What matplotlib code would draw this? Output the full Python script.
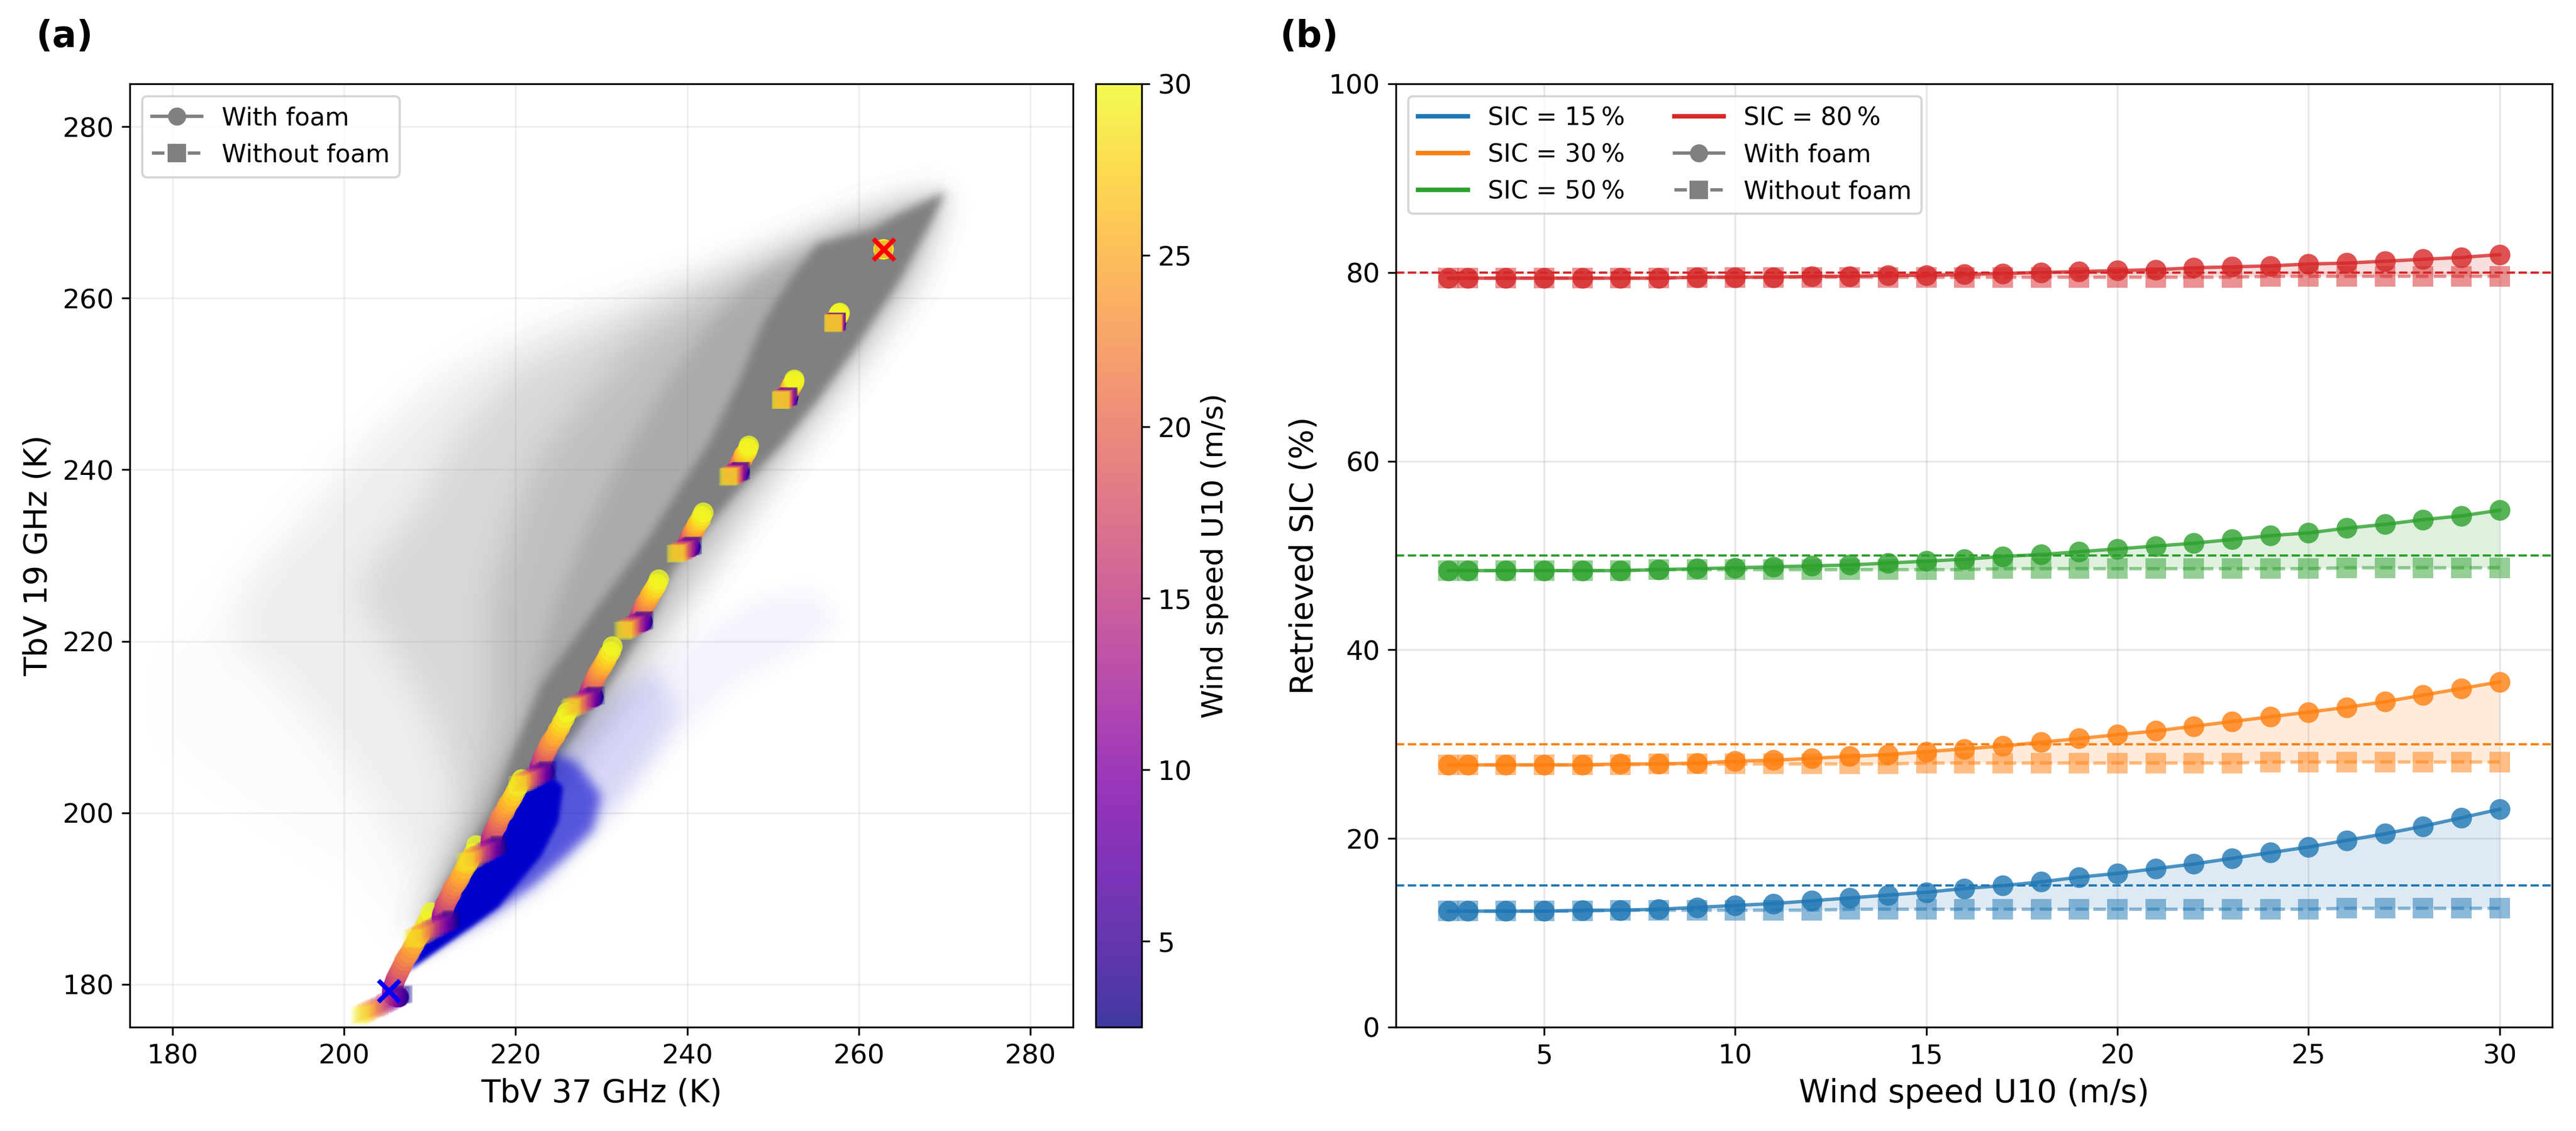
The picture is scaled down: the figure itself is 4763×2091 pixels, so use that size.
import matplotlib
matplotlib.use("Agg")
import matplotlib.pyplot as plt
import matplotlib.colors as mcolors
import numpy as np
from matplotlib.lines import Line2D
from matplotlib.patches import Polygon

wind = [2.5,3,4,5,6,7,8,9,10,11,12,13,14,15,16,17,18,19,20,21,22,23,24,25,26,27,28,29,30]

# Panel (a): brightness temperature curves, one row per ice concentration 0,10,...,100 %
tb37_foam = [
[206.4,206.3,206.2,206.1,205.9,205.8,205.7,205.6,205.6,205.6,205.6,205.7,205.8,205.9,206.0,206.2,206.4,206.6,206.8,207.0,207.3,207.6,207.9,208.2,208.5,208.9,209.3,209.7,210.1],
[212.1,212.0,211.9,211.8,211.7,211.6,211.5,211.4,211.4,211.4,211.4,211.5,211.6,211.7,211.7,211.9,212.1,212.3,212.5,212.6,212.9,213.2,213.5,213.7,214.0,214.4,214.7,215.1,215.4],
[217.7,217.6,217.5,217.5,217.3,217.2,217.1,217.1,217.1,217.1,217.1,217.1,217.2,217.3,217.4,217.5,217.7,217.9,218.0,218.2,218.4,218.7,218.9,219.1,219.4,219.7,220.0,220.3,220.7],
[223.4,223.3,223.3,223.2,223.1,223.0,222.9,222.8,222.8,222.8,222.8,222.9,223.0,223.1,223.1,223.3,223.4,223.5,223.7,223.8,224.0,224.2,224.5,224.7,224.9,225.2,225.4,225.7,226.0],
[229.1,229.0,229.0,228.9,228.8,228.7,228.7,228.6,228.6,228.6,228.6,228.7,228.7,228.8,228.9,229.0,229.1,229.2,229.3,229.5,229.6,229.8,230.0,230.2,230.4,230.6,230.8,231.1,231.3],
[234.8,234.8,234.7,234.7,234.6,234.5,234.5,234.4,234.4,234.4,234.4,234.5,234.5,234.6,234.6,234.7,234.8,234.9,235.0,235.1,235.3,235.4,235.6,235.7,235.9,236.1,236.3,236.5,236.7],
[240.4,240.4,240.3,240.3,240.2,240.2,240.1,240.1,240.1,240.1,240.1,240.1,240.2,240.2,240.2,240.3,240.4,240.5,240.6,240.6,240.8,240.9,241.0,241.1,241.2,241.4,241.6,241.7,241.9],
[246.1,246.1,246.0,246.0,246.0,245.9,245.9,245.9,245.9,245.9,245.9,245.9,245.9,246.0,246.0,246.0,246.1,246.2,246.2,246.3,246.4,246.5,246.6,246.6,246.7,246.9,247.0,247.1,247.2],
[251.8,251.8,251.8,251.7,251.7,251.7,251.7,251.6,251.6,251.6,251.6,251.7,251.7,251.7,251.7,251.8,251.8,251.8,251.9,251.9,252.0,252.0,252.1,252.2,252.2,252.3,252.4,252.5,252.5],
[257.4,257.4,257.4,257.4,257.4,257.3,257.3,257.3,257.3,257.3,257.3,257.3,257.3,257.4,257.4,257.4,257.4,257.4,257.4,257.5,257.5,257.5,257.6,257.6,257.6,257.7,257.7,257.7,257.8],
[262.9,262.9,262.9,262.9,262.9,262.9,262.9,262.9,262.9,262.9,262.9,262.9,262.9,262.9,262.9,262.9,262.9,262.9,262.9,262.9,262.9,262.9,262.9,262.9,262.9,262.9,262.9,262.9,262.9],
]
tb19_foam = [
[178.5,178.5,178.5,178.5,178.6,178.6,178.7,178.9,179.0,179.2,179.4,179.7,180.0,180.3,180.6,181.0,181.4,181.8,182.2,182.7,183.2,183.6,184.2,184.7,185.3,185.9,186.6,187.4,188.4],
[187.3,187.3,187.3,187.3,187.4,187.4,187.5,187.6,187.8,187.9,188.1,188.4,188.6,188.9,189.2,189.5,189.9,190.3,190.6,191.1,191.5,191.9,192.4,192.9,193.4,194.0,194.6,195.3,196.2],
[196.0,196.0,196.0,196.0,196.1,196.1,196.2,196.3,196.4,196.6,196.7,197.0,197.2,197.4,197.7,198.0,198.3,198.6,199.0,199.4,199.8,200.1,200.6,201.0,201.4,201.9,202.5,203.1,203.9],
[204.8,204.8,204.8,204.8,204.9,204.9,204.9,205.1,205.2,205.3,205.4,205.6,205.9,206.1,206.3,206.6,206.8,207.1,207.4,207.7,208.1,208.4,208.8,209.1,209.6,210.0,210.5,211.0,211.7],
[213.5,213.5,213.5,213.5,213.6,213.6,213.6,213.7,213.8,213.9,214.0,214.2,214.4,214.6,214.8,215.0,215.2,215.5,215.7,216.0,216.3,216.6,216.9,217.2,217.6,217.9,218.4,218.8,219.4],
[222.3,222.3,222.3,222.3,222.3,222.3,222.4,222.5,222.5,222.6,222.7,222.9,223.0,223.2,223.3,223.5,223.7,223.9,224.1,224.4,224.6,224.8,225.1,225.4,225.7,226.0,226.3,226.7,227.2],
[231.0,231.0,231.0,231.0,231.0,231.0,231.1,231.2,231.2,231.3,231.4,231.5,231.6,231.7,231.8,232.0,232.2,232.3,232.5,232.7,232.9,233.0,233.3,233.5,233.7,234.0,234.2,234.6,235.0],
[239.8,239.8,239.8,239.8,239.8,239.8,239.9,239.9,240.0,240.0,240.1,240.2,240.2,240.3,240.4,240.5,240.7,240.8,240.9,241.1,241.2,241.3,241.5,241.7,241.8,242.0,242.2,242.5,242.8],
[248.5,248.5,248.5,248.5,248.5,248.5,248.5,248.6,248.6,248.6,248.7,248.7,248.8,248.9,248.9,249.0,249.1,249.2,249.2,249.3,249.4,249.5,249.6,249.7,249.9,250.0,250.1,250.3,250.5],
[257.3,257.3,257.3,257.3,257.3,257.3,257.3,257.3,257.4,257.4,257.4,257.4,257.5,257.5,257.5,257.6,257.6,257.6,257.7,257.7,257.8,257.8,257.9,257.9,258.0,258.0,258.1,258.2,258.3],
[265.7,265.7,265.7,265.7,265.7,265.7,265.7,265.7,265.7,265.7,265.7,265.7,265.7,265.7,265.7,265.7,265.7,265.7,265.7,265.7,265.7,265.7,265.7,265.7,265.7,265.7,265.7,265.7,265.7],
]
tb37_nofoam = [
[207.0,206.9,206.7,206.5,206.3,206.2,206.0,205.8,205.6,205.4,205.2,205.0,204.8,204.7,204.5,204.2,204.1,203.9,203.7,203.5,203.3,203.1,202.9,202.7,202.6,202.4,202.2,202.0,201.8],
[212.6,212.5,212.4,212.2,212.0,211.9,211.7,211.5,211.3,211.1,211.0,210.8,210.6,210.5,210.3,210.1,210.0,209.8,209.6,209.5,209.3,209.1,208.9,208.8,208.6,208.4,208.2,208.1,207.9],
[218.2,218.1,218.0,217.8,217.7,217.5,217.4,217.2,217.1,216.9,216.7,216.6,216.5,216.3,216.2,216.0,215.9,215.7,215.5,215.4,215.2,215.1,215.0,214.8,214.7,214.5,214.3,214.2,214.0],
[223.8,223.7,223.6,223.5,223.3,223.2,223.1,222.9,222.8,222.7,222.5,222.4,222.3,222.2,222.0,221.9,221.8,221.6,221.5,221.4,221.2,221.1,221.0,220.8,220.7,220.6,220.4,220.3,220.2],
[229.4,229.3,229.2,229.1,229.0,228.9,228.8,228.7,228.6,228.4,228.3,228.2,228.1,228.0,227.9,227.7,227.7,227.5,227.4,227.3,227.2,227.1,227.0,226.8,226.7,226.6,226.5,226.4,226.3],
[235.1,235.0,235.0,234.9,234.8,234.7,234.6,234.5,234.4,234.3,234.2,234.1,234.0,233.9,233.8,233.7,233.6,233.5,233.4,233.4,233.3,233.2,233.1,233.0,232.9,232.8,232.7,232.6,232.5],
[240.7,240.7,240.6,240.5,240.4,240.4,240.3,240.2,240.1,240.1,240.0,239.9,239.8,239.8,239.7,239.6,239.5,239.5,239.4,239.3,239.2,239.1,239.1,239.0,238.9,238.8,238.8,238.7,238.6],
[246.3,246.3,246.2,246.2,246.1,246.1,246.0,245.9,245.9,245.8,245.8,245.7,245.6,245.6,245.5,245.5,245.4,245.4,245.3,245.3,245.2,245.1,245.1,245.0,245.0,244.9,244.8,244.8,244.7],
[251.9,251.9,251.8,251.8,251.8,251.7,251.7,251.7,251.6,251.6,251.5,251.5,251.5,251.4,251.4,251.3,251.3,251.3,251.2,251.2,251.2,251.1,251.1,251.0,251.0,251.0,250.9,250.9,250.9],
[257.5,257.5,257.5,257.5,257.4,257.4,257.4,257.4,257.4,257.3,257.3,257.3,257.3,257.3,257.2,257.2,257.2,257.2,257.2,257.2,257.1,257.1,257.1,257.1,257.1,257.0,257.0,257.0,257.0],
[262.9,262.9,262.9,262.9,262.9,262.9,262.9,262.9,262.9,262.9,262.9,262.9,262.9,262.9,262.9,262.9,262.9,262.9,262.9,262.9,262.9,262.9,262.9,262.9,262.9,262.9,262.9,262.9,262.9],
]
tb19_nofoam = [
[178.9,178.8,178.8,178.7,178.6,178.5,178.4,178.3,178.2,178.1,178.0,177.9,177.8,177.7,177.6,177.5,177.4,177.3,177.2,177.2,177.1,177.0,176.9,176.8,176.7,176.6,176.5,176.4,176.3],
[187.6,187.6,187.5,187.4,187.3,187.2,187.1,187.0,187.0,186.9,186.8,186.7,186.6,186.5,186.5,186.4,186.3,186.2,186.1,186.0,185.9,185.8,185.8,185.7,185.6,185.5,185.4,185.4,185.3],
[196.3,196.3,196.2,196.1,196.0,196.0,195.9,195.8,195.7,195.7,195.6,195.5,195.4,195.4,195.3,195.2,195.1,195.1,195.0,194.9,194.8,194.7,194.7,194.6,194.5,194.4,194.4,194.3,194.2],
[205.0,205.0,204.9,204.8,204.8,204.7,204.6,204.6,204.5,204.4,204.4,204.3,204.2,204.2,204.1,204.0,204.0,203.9,203.8,203.8,203.7,203.6,203.6,203.5,203.5,203.4,203.3,203.3,203.2],
[213.7,213.7,213.6,213.6,213.5,213.5,213.4,213.3,213.3,213.2,213.2,213.1,213.0,213.0,212.9,212.9,212.8,212.8,212.7,212.7,212.6,212.5,212.5,212.4,212.4,212.3,212.3,212.2,212.1],
[222.5,222.5,222.4,222.4,222.3,222.3,222.2,222.2,222.1,222.1,222.0,222.0,222.0,221.9,221.9,221.8,221.8,221.7,221.7,221.6,221.6,221.5,221.5,221.4,221.4,221.3,221.3,221.2,221.2],
[231.2,231.2,231.1,231.1,231.1,231.0,231.0,231.0,230.9,230.9,230.8,230.8,230.8,230.7,230.7,230.6,230.6,230.6,230.5,230.5,230.5,230.4,230.4,230.3,230.3,230.3,230.2,230.2,230.2],
[239.9,239.9,239.9,239.8,239.8,239.8,239.7,239.7,239.7,239.7,239.6,239.6,239.6,239.5,239.5,239.5,239.5,239.4,239.4,239.4,239.3,239.3,239.3,239.3,239.2,239.2,239.2,239.2,239.1],
[248.6,248.6,248.6,248.6,248.5,248.5,248.5,248.5,248.5,248.4,248.4,248.4,248.4,248.4,248.3,248.3,248.3,248.3,248.3,248.3,248.2,248.2,248.2,248.2,248.2,248.1,248.1,248.1,248.1],
[257.3,257.3,257.3,257.3,257.3,257.3,257.2,257.2,257.2,257.2,257.2,257.2,257.2,257.2,257.2,257.2,257.2,257.1,257.1,257.1,257.1,257.1,257.1,257.1,257.1,257.1,257.1,257.1,257.0],
[265.7,265.7,265.7,265.7,265.7,265.7,265.7,265.7,265.7,265.7,265.7,265.7,265.7,265.7,265.7,265.7,265.7,265.7,265.7,265.7,265.7,265.7,265.7,265.7,265.7,265.7,265.7,265.7,265.7],
]

tie_water = (205.2, 179.2)
tie_ice = (262.9, 265.7)

# Panel (a): outlines of the observation cloud, read as density bands (faint to dense)
# each band: opacity, edge softness in pixels, outline
gray_bands = [
    (0.03, 30, [(270.1,272.4),(262.7,270.3),(252.2,265.3),(245.2,264.6),(231.1,261.1),(219.9,256.9),(208.7,250.6),(199.6,242.2),(189,230.3),(179.2,217.6),(179.2,208.5),(189,200.8),(199.6,193.8),(205.9,186),(208,183.2),(211.5,186.7),(217.1,193.1),(220.6,197.3),(225.5,203.6),(231.1,210.6),(238.2,220.4),(245.2,230.3),(248.8,235.7),(253.6,242.2),(258.4,248.5),(263.2,255),(267.7,262)]),
    (0.10, 30, [(270.1,272.4),(261.3,270.6),(252.2,266.8),(241.7,263.2),(231.1,259),(221.3,255.5),(211.5,250.6),(203.1,242.9),(196.1,234.5),(189,226.8),(186.9,220.4),(193.2,214.8),(198.9,207.8),(204.5,199.4),(208.7,191.7),(208,183.9),(211,186.7),(216.2,193.1),(219.7,197.3),(224.6,203.6),(230.2,210.6),(237.2,220.4),(243.8,230),(247.8,235.7),(252.4,242.2),(257.2,248.5),(262,255),(266.9,262),(269.8,271.5)]),
    (0.20, 30, [(270.1,272.4),(259.2,269.2),(248.7,264.6),(238.2,260.4),(228.3,255.5),(219.9,251.3),(212.9,243.6),(208.7,235.9),(203.1,228.9),(201.7,225.3),(205.9,218.3),(210.1,211.3),(212.9,202.2),(211.5,194.5),(208.7,185.3),(210.5,186.7),(215.5,193.1),(219,197.3),(223.9,203.6),(229.5,210.6),(236.4,220.4),(243,230),(247,235.7),(251.8,242.2),(256.5,248.5),(261.3,255),(266.2,262),(269.5,270.8)]),
    (0.28, 30, [(270.1,272.4),(262.7,269.9),(252.2,266),(242.4,260.4),(234,254.8),(228.3,248.5),(222.7,241.5),(219.9,234.5),(217.1,225.3),(217.1,218.3),(217.1,211.3),(216.4,205.7),(215,197.3),(208.7,186),(210.2,186.7),(215,193.1),(218.4,197.3),(223.2,203.6),(228.8,210.6),(235.7,220.4),(242.4,230),(246.4,235.7),(251.2,242.2),(255.8,248.5),(260.6,255),(265.7,262),(269.3,270.3)]),
    (0.31, 15, [(270.1,272.4),(264.1,269.9),(255.7,266.8),(248,262.5),(242.4,256.9),(237.5,249.9),(232.5,241.5),(228.3,233.1),(224.8,224.6),(222.7,217.6),(220.6,210.1),(217.1,203.6),(212.9,195.9),(208.7,186.7),(212.2,190.3),(217.1,196.6),(223.4,204.3),(226.9,209.2),(231.1,215.5),(236,223.2),(238.2,228.2),(242.3,233.3),(245.6,237.2),(251,243),(255.2,248.2),(259.4,254),(264.8,262.2),(268.7,269.5)]),
    (1.0, 8, [(270.1,272.4),(264,269.4),(261.6,268),(255.2,266.3),(252,262.2),(249,257.4),(246,250.2),(242.5,243),(239.3,238.1),(235.5,232),(229.5,224),(226,219.1),(223,214.9),(219.5,206.5),(217.1,200.2),(213.5,194.5),(208,185.3),(212.2,190.3),(217.1,196.6),(223.4,204.3),(226.9,209.2),(231.1,215.5),(236,223.2),(238.2,228.2),(242.3,233.3),(245.6,237.2),(251,243),(255.2,248.2),(259.4,254),(264.8,262.2),(268.7,269.5)]),
]
blue_bands = [
    (0.05, 20, [(208,183),(217.1,187.5),(222.7,191),(228.3,196.6),(233.2,201.5),(239.6,209.2),(245.2,214.8),(252.2,218.3),(258,222),(255,226),(248,225),(240,220),(230,212),(222,204),(213,192)]),
    (0.12, 20, [(208,183),(217,188),(222.7,191.5),(228,197),(232,201.5),(236,207),(239,212),(236,217),(230,213),(224,206),(216,195)]),
    (0.60, 10, [(208,183),(217,188),(222,191.5),(226,195),(229,198),(230,202),(227,206),(224,207),(220,201),(214,192)]),
    (1.0, 4, [(207.5,181.5),(211,184),(215,186.8),(218,189),(220.5,192),(223,195),(225,199),(225.5,203),(223,205.5),(220,203),(215,194),(211,188)]),
]

# Panel (b)
sic_names = ["SIC = 15\u2009%", "SIC = 30\u2009%", "SIC = 50\u2009%", "SIC = 80\u2009%"]
sic_true = [15, 30, 50, 80]
sic_colors = ["#1f77b4", "#ff7f0e", "#2ca02c", "#d62728"]
sic15_foam = [12.3,12.3,12.3,12.3,12.4,12.4,12.5,12.7,12.9,13.1,13.4,13.7,14.0,14.3,14.7,15.0,15.4,15.9,16.3,16.8,17.3,17.9,18.5,19.1,19.8,20.5,21.3,22.2,23.1]
sic15_nofoam = [12.3,12.3,12.3,12.3,12.3,12.4,12.4,12.4,12.4,12.4,12.4,12.5,12.5,12.5,12.5,12.5,12.5,12.5,12.5,12.5,12.5,12.5,12.5,12.5,12.6,12.6,12.6,12.6,12.6]
sic30_foam = [27.8,27.8,27.8,27.8,27.8,27.9,27.9,28.0,28.2,28.3,28.5,28.7,28.9,29.2,29.5,29.8,30.2,30.6,31.0,31.4,31.9,32.4,32.9,33.4,33.9,34.5,35.2,35.9,36.6]
sic30_nofoam = [27.8,27.8,27.8,27.8,27.8,27.8,27.9,27.9,27.9,27.9,27.9,27.9,27.9,28.0,28.0,28.0,28.0,28.0,28.0,28.0,28.0,28.0,28.1,28.1,28.1,28.1,28.1,28.1,28.1]
sic50_foam = [48.4,48.4,48.4,48.4,48.4,48.4,48.5,48.6,48.7,48.8,48.9,49.0,49.2,49.4,49.6,49.9,50.1,50.4,50.7,51.0,51.3,51.7,52.1,52.4,52.9,53.3,53.8,54.2,54.8]
sic50_nofoam = [48.4,48.4,48.4,48.4,48.4,48.4,48.5,48.5,48.5,48.5,48.5,48.5,48.5,48.5,48.5,48.6,48.6,48.6,48.6,48.6,48.6,48.6,48.6,48.6,48.7,48.7,48.7,48.7,48.7]
sic80_foam = [79.4,79.4,79.4,79.4,79.4,79.4,79.4,79.5,79.5,79.5,79.6,79.6,79.7,79.7,79.8,79.9,80.0,80.1,80.2,80.3,80.5,80.6,80.7,80.9,81.0,81.2,81.4,81.6,81.9]
sic80_nofoam = [79.4,79.4,79.4,79.4,79.4,79.4,79.4,79.5,79.5,79.5,79.5,79.5,79.5,79.5,79.5,79.5,79.5,79.5,79.5,79.5,79.5,79.5,79.6,79.6,79.6,79.6,79.6,79.6,79.6]
foam_series = [sic15_foam, sic30_foam, sic50_foam, sic80_foam]
nofoam_series = [sic15_nofoam, sic30_nofoam, sic50_nofoam, sic80_nofoam]


def soften(color, sigma):
    """Agg filter: feather the edge of a filled outline."""
    rgb = mcolors.to_rgb(color)

    def apply(img, dpi):
        pad = int(3 * sigma)
        alpha = np.pad(img[:, :, 3], pad)
        fy = np.fft.fftfreq(alpha.shape[0])[:, None]
        fx = np.fft.rfftfreq(alpha.shape[1])[None, :]
        kernel = np.exp(-2 * (np.pi * sigma) ** 2 * (fx ** 2 + fy ** 2))
        soft = np.fft.irfft2(np.fft.rfft2(alpha) * kernel, s=alpha.shape)
        out = np.zeros(alpha.shape + (4,))
        out[:, :, 0], out[:, :, 1], out[:, :, 2] = rgb
        out[:, :, 3] = np.clip(soft, 0, 1)
        return out, -pad, -pad

    return apply


W, H = 4763, 2091
fig = plt.figure(figsize=(W / 300, H / 300), dpi=300)
def box(x0, y0, x1, y1):
    return [x0 / W, 1 - y1 / H, (x1 - x0) / W, (y1 - y0) / H]

ax1 = fig.add_axes(box(240, 155, 1984, 1899))
cax = fig.add_axes(box(2026, 155, 2111, 1899))
ax2 = fig.add_axes(box(2581, 155, 4719, 1899))

for alpha, sigma, pts in gray_bands:
    patch = Polygon(pts, closed=True, facecolor="gray", edgecolor="none", alpha=alpha, zorder=1)
    patch.set_agg_filter(soften("gray", sigma))
    ax1.add_patch(patch)
for alpha, sigma, pts in blue_bands:
    patch = Polygon(pts, closed=True, facecolor="mediumblue", edgecolor="none", alpha=alpha, zorder=2)
    patch.set_agg_filter(soften("mediumblue", sigma))
    ax1.add_patch(patch)

sc = None
for row in range(len(tb37_foam)):
    sc = ax1.scatter(tb37_foam[row], tb19_foam[row], c=wind, cmap="plasma", vmin=2.5, vmax=30,
                     s=80, marker="o", alpha=0.8, linewidths=0, zorder=3)
    ax1.scatter(tb37_nofoam[row], tb19_nofoam[row], c=wind, cmap="plasma", vmin=2.5, vmax=30,
                s=60, marker="s", alpha=0.2, linewidths=0, zorder=3)
ax1.scatter(*tie_water, marker="x", s=90, c="blue", linewidths=2, zorder=5)
ax1.scatter(*tie_ice, marker="x", s=90, c="red", linewidths=2, zorder=5)

ax1.set_xlim(175, 285)
ax1.set_ylim(175, 285)
ax1.set_xticks(range(180, 281, 20))
ax1.set_yticks(range(180, 281, 20))
ax1.grid(True, alpha=0.2, zorder=0)
ax1.set_axisbelow(True)
ax1.tick_params(labelsize=12)
ax1.set_xlabel("TbV 37 GHz (K)", fontsize=14)
ax1.set_ylabel("TbV 19 GHz (K)", fontsize=14)

foam_handle = Line2D([], [], color="gray", lw=1.5, marker="o", ms=7, label="With foam")
nofoam_handle = Line2D([], [], color="gray", lw=1.5, ls="--", marker="s", ms=7, label="Without foam")
ax1.legend(handles=[foam_handle, nofoam_handle], loc="upper left", fontsize=11)

cb = fig.colorbar(sc, cax=cax)
cb.set_ticks([5, 10, 15, 20, 25, 30])
cb.ax.tick_params(labelsize=12)
cb.set_label("Wind speed U10 (m/s)", fontsize=13)

for name, truth, color, foam, nofoam in zip(sic_names, sic_true, sic_colors, foam_series, nofoam_series):
    ax2.axhline(truth, color=color, ls="--", lw=1.0, zorder=2)
    ax2.fill_between(wind, foam, nofoam, color=color, alpha=0.15, linewidth=0, zorder=2)
    ax2.plot(wind, foam, "-o", color=color, lw=1.5, ms=9.2, mew=0, alpha=0.8, zorder=3)
    ax2.plot(wind, nofoam, "--s", color=color, lw=1.5, ms=9.2, mew=0, alpha=0.5, zorder=3)

ax2.set_xlim(1.125, 31.375)
ax2.set_ylim(0, 100)
ax2.set_xticks([5, 10, 15, 20, 25, 30])
ax2.set_yticks([0, 20, 40, 60, 80, 100])
ax2.grid(True, alpha=0.3, zorder=0)
ax2.set_axisbelow(True)
ax2.tick_params(labelsize=12)
ax2.set_xlabel("Wind speed U10 (m/s)", fontsize=14)
ax2.set_ylabel("Retrieved SIC (%)", fontsize=14)
sic_handles = [Line2D([], [], color=c, lw=2, label=n) for n, c in zip(sic_names, sic_colors)]
ax2.legend(handles=sic_handles + [foam_handle, nofoam_handle], loc="upper left", ncol=2, fontsize=11)

fig.text(66 / W, 1 - 68 / H, "(a)", fontsize=16, fontweight="bold", va="center", ha="left")
fig.text(2366 / W, 1 - 68 / H, "(b)", fontsize=16, fontweight="bold", va="center", ha="left")

fig.savefig("out.png", dpi=300)
